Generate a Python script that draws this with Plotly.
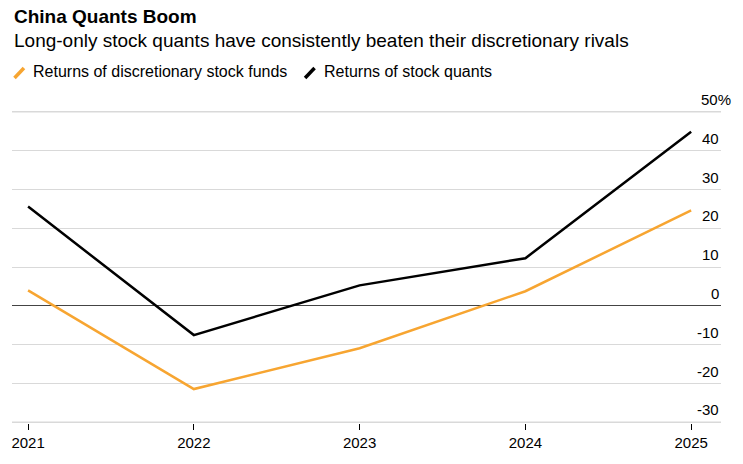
import plotly.graph_objects as go

years = [2021, 2022, 2023, 2024, 2025]
discretionary = [4.0, -21.4, -10.9, 3.8, 24.6]
quants = [25.6, -7.5, 5.3, 12.3, 44.9]
ytick_vals = [-30, -20, -10, 0, 10, 20, 30, 40, 50]
ytick_text = ["-30", "-20", "-10", "0", "10", "20", "30", "40", "50%"]

ORANGE = "#f7a531"
BLACK = "#000000"
FONT = "Liberation Sans, Arial, sans-serif"

TOP = 108
fig = go.Figure()
fig.add_trace(go.Scatter(x=years, y=discretionary, mode="lines",
                         line=dict(color=ORANGE, width=2.5), name="Returns of discretionary stock funds"))
fig.add_trace(go.Scatter(x=years, y=quants, mode="lines",
                         line=dict(color=BLACK, width=2.5), name="Returns of stock quants"))

fig.update_layout(
    width=743, height=464,
    margin=dict(l=12, r=22, t=TOP, b=41),
    paper_bgcolor="white", plot_bgcolor="white",
    showlegend=False,
    font=dict(family=FONT, color="#000"),
    xaxis=dict(range=[2020.903, 2025.18], tickvals=years, ticktext=[str(y) for y in years],
               showgrid=False, zeroline=False, showline=False,
               ticks="outside", ticklen=6, tickcolor="#000", tickwidth=1,
               tickfont=dict(size=15, color="#000")),
    yaxis=dict(range=[-30.15, 51], side="right", tickvals=ytick_vals,
               showticklabels=False, showgrid=True, gridcolor="#d9d9d9", gridwidth=1,
               zeroline=True, zerolinecolor="#444", zerolinewidth=1.2,
               showline=False, ticks=""),
)

# bottom axis line drawn heavier, top gridline drawn explicitly
fig.add_shape(type="line", xref="paper", yref="y", x0=0, x1=1, y0=-30, y1=-30,
              line=dict(color="#d9d9d9", width=2), layer="below")
fig.add_shape(type="line", xref="paper", yref="y", x0=0, x1=1, y0=50, y1=50,
              line=dict(color="#d9d9d9", width=1.2), layer="above")

# y labels, right aligned, sitting above gridlines ("%" hangs past the edge)
for v, t in zip(ytick_vals, ytick_text):
    fig.add_annotation(text=t, xref="paper", yref="y", x=1, y=v, xanchor="right",
                       yanchor="bottom", showarrow=False,
                       xshift=(12 if t.endswith("%") else 0), yshift=2,
                       font=dict(size=15, family=FONT, color="#000"))

fig.add_annotation(text="<b>China Quants Boom</b>", xref="paper", yref="paper",
                   x=0, y=1, xanchor="left", yanchor="top", showarrow=False,
                   font=dict(size=19, family=FONT, color="#000"),
                   yshift=TOP - 4)
fig.add_annotation(text="Long-only stock quants have consistently beaten their discretionary rivals",
                   xref="paper", yref="paper", x=0, y=1, xanchor="left", yanchor="top",
                   showarrow=False, font=dict(size=19, family=FONT, color="#000"),
                   yshift=TOP - 28)

# legend
H = 464.0 - TOP - 41
for x0, color, label in [(0.0, ORANGE, "Returns of discretionary stock funds"),
                         (291 / 710, BLACK, "Returns of stock quants")]:
    fig.add_shape(type="line", xref="paper", yref="paper",
                  x0=x0 + 2.5 / 711, x1=x0 + 12 / 711, y0=1 + 30 / H, y1=1 + 40 / H,
                  line=dict(color=color, width=3.5))
    fig.add_annotation(text=label, xref="paper", yref="paper", x=x0 + 19 / 711, y=1 + 37 / H,
                       xanchor="left", yanchor="middle", showarrow=False,
                       font=dict(size=16, family=FONT, color="#000"))

fig.write_html("out.html")
